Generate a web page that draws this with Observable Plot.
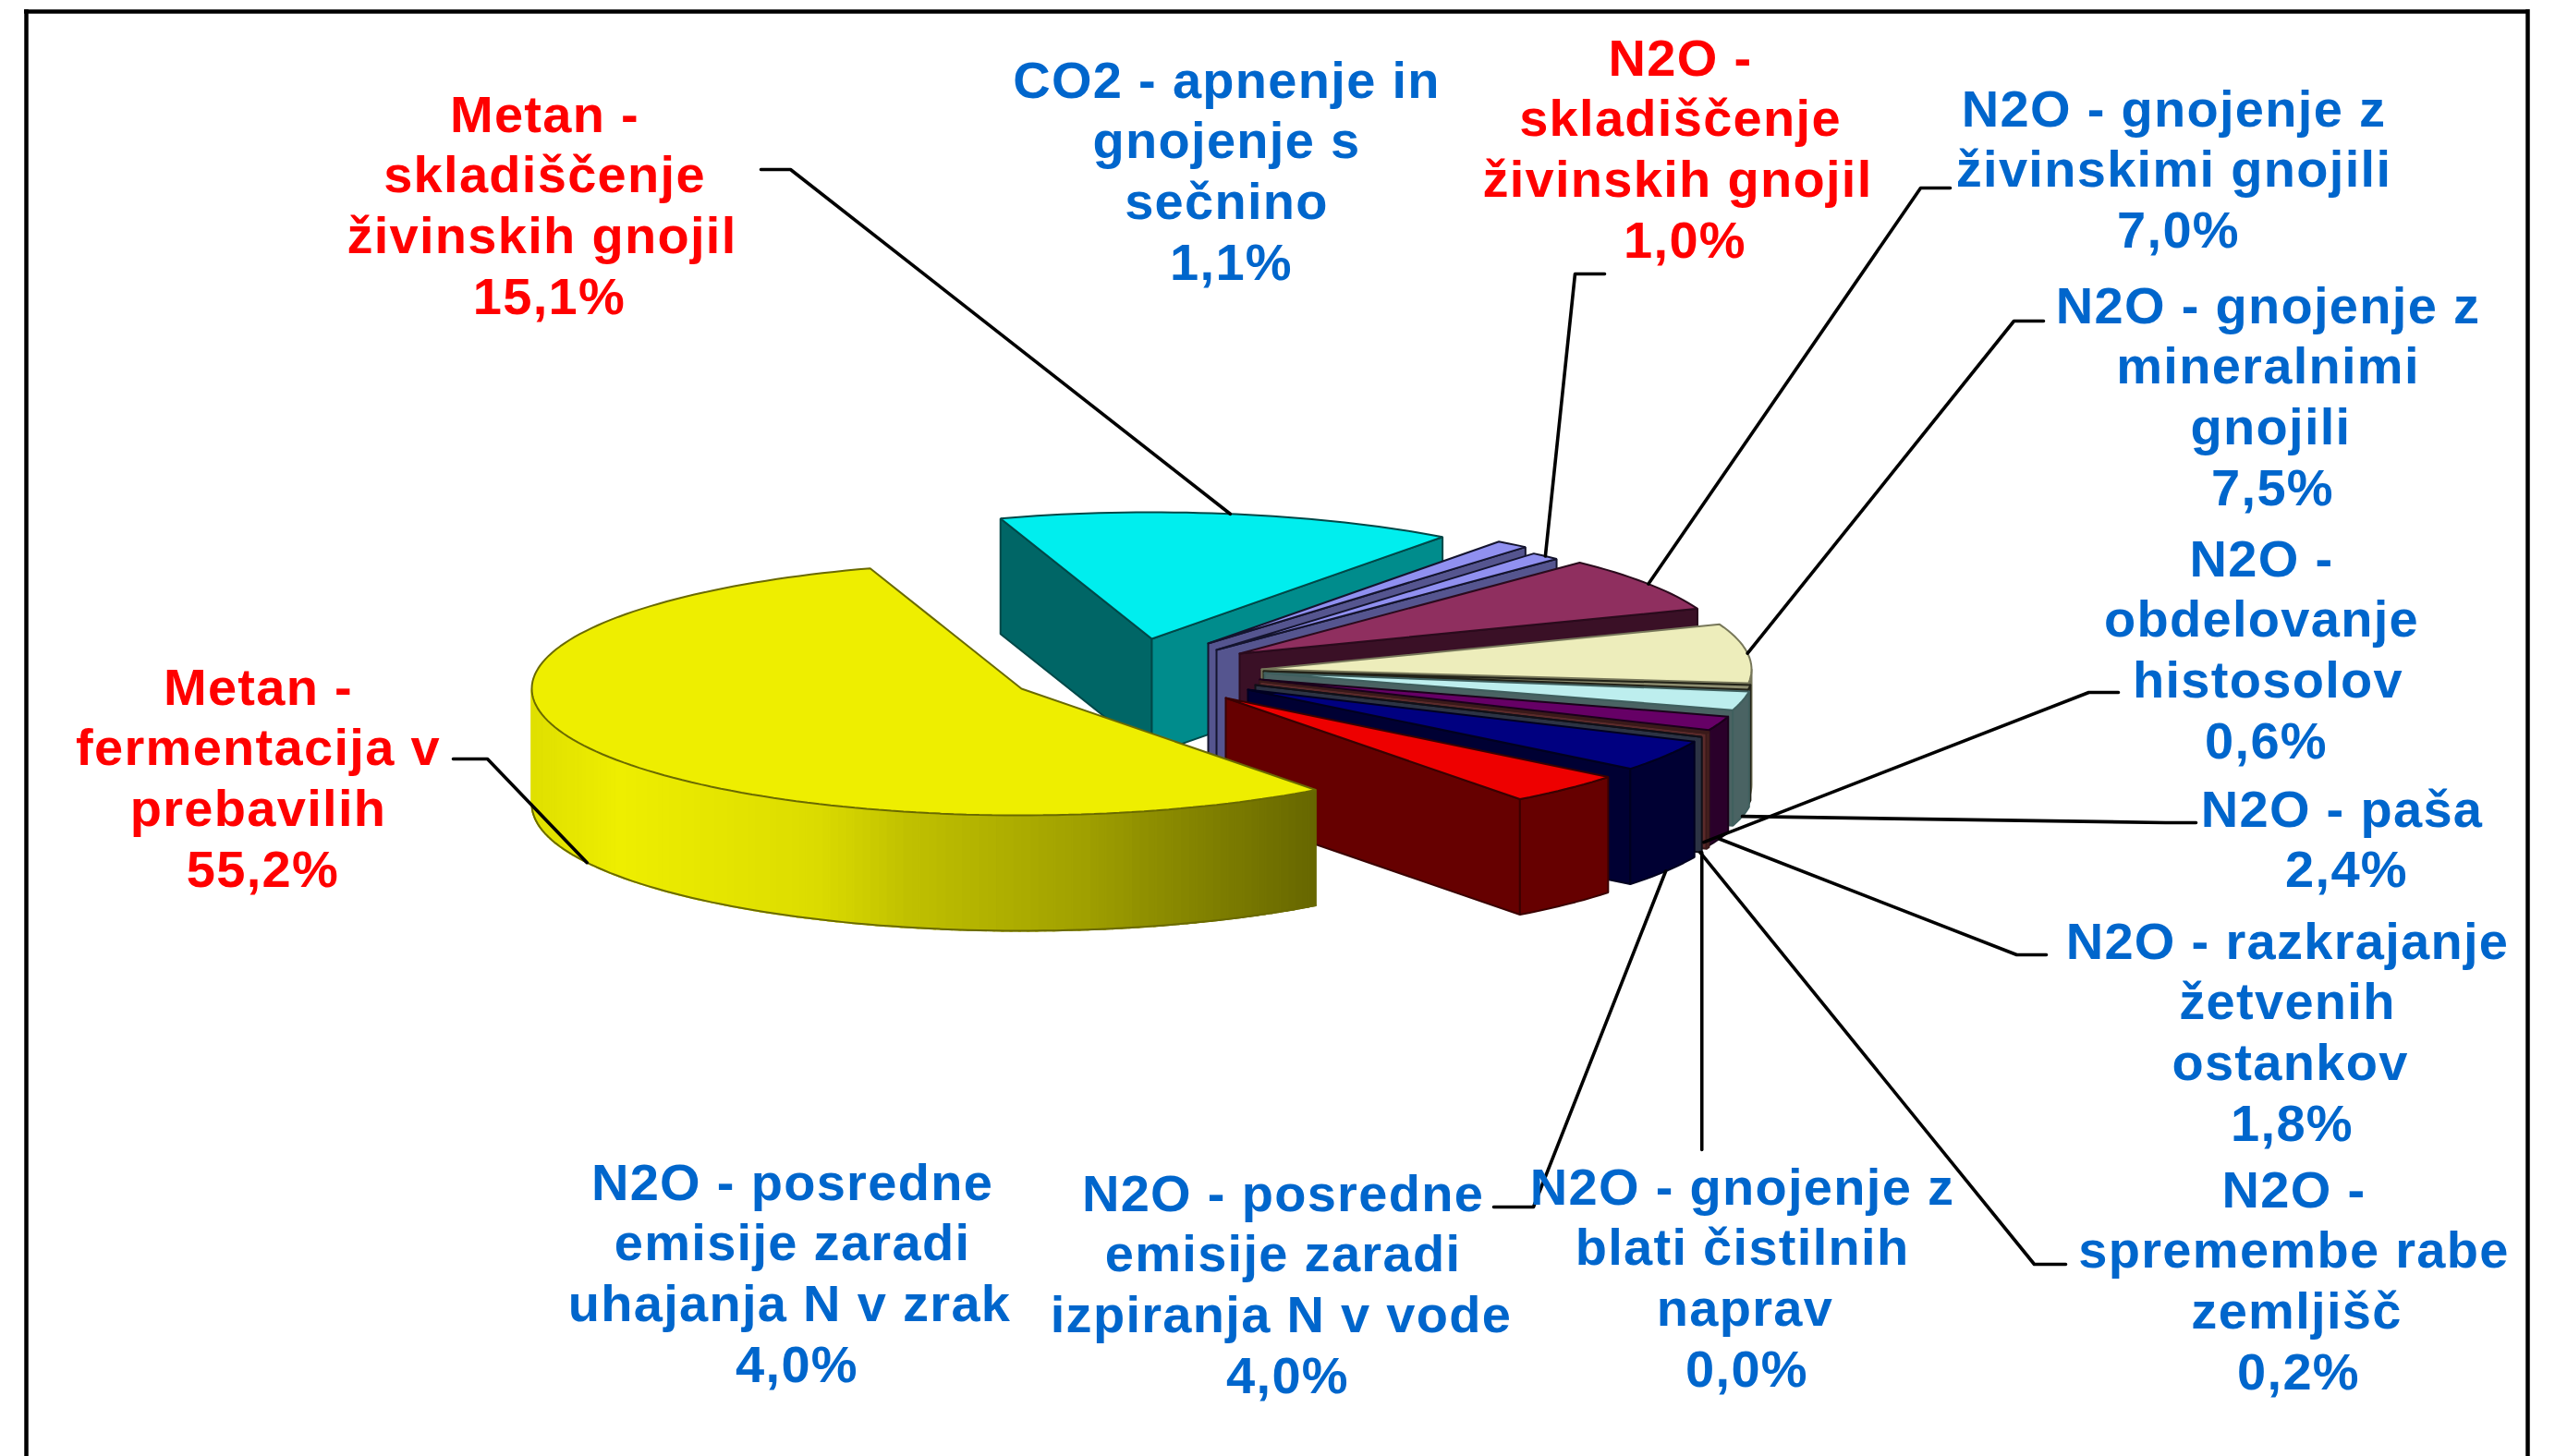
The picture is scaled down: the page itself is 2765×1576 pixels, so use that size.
<!DOCTYPE html>
<html>
<head>
<meta charset="utf-8">
<script src="https://cdn.jsdelivr.net/npm/d3@7"></script>
<script src="https://cdn.jsdelivr.net/npm/@observablehq/plot@0.6"></script>
<style>html,body{margin:0;padding:0;background:#fff}svg{display:block}</style>
</head>
<body>
<div id="chart"></div>
<script>
// ---- data ----
const categories = [
  "Metan -|fermentacija v|prebavilih",
  "Metan -|skladiščenje|živinskih gnojil",
  "CO2 - apnenje in|gnojenje s|sečnino",
  "N2O -|skladiščenje|živinskih gnojil",
  "N2O - gnojenje z|živinskimi gnojili",
  "N2O - gnojenje z|mineralnimi|gnojili",
  "N2O -|obdelovanje|histosolov",
  "N2O - paša",
  "N2O - razkrajanje|žetvenih|ostankov",
  "N2O -|spremembe rabe|zemljišč",
  "N2O - gnojenje z|blati čistilnih|naprav",
  "N2O - posredne|emisije zaradi|izpiranja N v vode",
  "N2O - posredne|emisije zaradi|uhajanja N v zrak"
];
const shares = [55.2, 15.1, 1.1, 1.0, 7.0, 7.5, 0.6, 2.4, 1.8, 0.2, 0.0, 4.0, 4.0];

// ---- styles ----
const labelColors = ["#ff0000","#ff0000","#0066cc","#ff0000","#0066cc","#0066cc","#0066cc","#0066cc","#0066cc","#0066cc","#0066cc","#0066cc","#0066cc"];
const topColors   = ["#eeee00","#00eeee","#9090f0","#9090f0","#8f2f5f","#ededbb","#8d8d70","#bdeeee","#660066","#b85c5c","#30384a","#000080","#ee0000"];
const startWalls  = ["#666600","#006666","#55558f","#55558f","#3a1026","#66664d","#44443a","#4a6363","#2a002a","#5a2a2a","#2c3344","#000033","#660000"];
const endWalls    = ["#666600","#008c8c","#55558f","#55558f","#3a1026","#66664d","#44443a","#4a6363","#2a002a","#5a2a2a","#2c3344","#000033","#660000"];
const edgeColors  = ["#6a6a00","#004848","#14142e","#14142e","#2a0a1c","#77775a","#222218","#40605f","#1a001a","#3a1a1a","#101018","#000020","#3a0000"];
const yellowRampStops = [577, 670, 880, 980, 1170, 1270, 1423];
const yellowRampColors = ["#e0e000", "#eeee00", "#dcdc00", "#c0c000", "#a0a000", "#888800", "#666600"];

// ---- layout ----
const rx = 530, ry = 137, depth = 125, fontSize = 56, lineStep = 65.7;
const startAngle = 252 - 360 * shares[0] / d3.sum(shares);   // clockwise from east, on the ellipse
const centerX = [1105,1246,1307,1316,1341,1365,1367,1368,1363,1363,1358,1350,1326];
const centerY = [ 745, 691, 696, 703, 707, 724, 726, 728, 735, 737, 741, 746, 755];
const labelX  = [ 279, 589,1327,1818,2352,2454,2447,2534,2475,2482,1885,1388, 857];
const labelY  = [ 762, 142, 105,  81, 136, 349, 623, 894,1037,1306,1303,1310,1298];
const percentShift = 5;
const lastLineShift = [0, -3, 0, -3, 0, 3, 7, 0, 3, 3, 3, -2, -3];
// leader shoulders: from x, to x, y (null = none)
const leaderShoulders = [
  [490,527,821],[823,855,183],null,[1736,1704,296],[2110,2078,203],[2211,2179,347],
  [2292,2260,749],[2376,2343,890],[2214,2182,1033],[2235,2201,1368],null,[1616,1659,1306],null
];
const leaderAngleOverride = [null,null,null,null,null,null,26,null,null,26,null,null,null];
const verticalLeaderTop = [null,null,null,null,null,null,null,null,null,null,1244,null,null];

// ---- geometry from the shares ----
const total = d3.sum(shares);
let acc = startAngle;
const slices = shares.map((s, i) => {
  const t0 = acc, t1 = acc + s / total * 360; acc = t1;
  return {i, t0, t1, cx: centerX[i], cy: centerY[i]};
});
const rad = d => d * Math.PI / 180;
const px = (sl, t) => sl.cx + rx * Math.cos(rad(t));
const py = (sl, t) => sl.cy + ry * Math.sin(rad(t));
const mod = t => ((t % 360) + 360) % 360;

const rows = [];
const outlineRows = [];
let zid = 0;
function poly(pts, fill, stroke) {
  const z = zid++;
  for (const [x, y] of pts) rows.push({x, y, z, fill, stroke});
}
function arc(sl, a, b, dz = 0) {
  const n = Math.max(2, Math.ceil(Math.abs(b - a) / 1.5));
  return d3.range(n + 1).map(k => { const t = a + (b - a) * k / n; return [px(sl, t), py(sl, t) + dz]; });
}
function box(sl, t, color, edge) {
  const ax = sl.cx, ay = sl.cy, bx = px(sl, t), by = py(sl, t);
  poly([[ax,ay],[bx,by],[bx,by+depth],[ax,ay+depth],[ax,ay]], color, edge);
}
const yellowRamp = d3.scaleLinear().domain(yellowRampStops).range(yellowRampColors).clamp(true);
const order = slices.slice(1).concat(slices[0]);
for (const sl of order) {
  const {i, t0, t1} = sl;
  const a0 = mod(t0), a1 = mod(t1);
  if (a0 > 90 && a0 < 270) box(sl, t0, startWalls[i], edgeColors[i]);
  if (a1 > 270 || a1 < 90) box(sl, t1, endWalls[i], edgeColors[i]);
  // the outer rim: only the part that faces the viewer
  const base = t0 - mod(t0);
  for (const [lo, hi] of [[base, base + 180], [base + 360, base + 540]]) {
    const a = Math.max(t0, lo), b = Math.min(t1, hi);
    if (b <= a) continue;
    if (i === 0) {
      for (let t = a; t < b; t += 1) {
        const e = Math.min(t + 1.3, b);
        const top = [[px(sl, t), py(sl, t)], [px(sl, e), py(sl, e)]];
        const bot = [[px(sl, e), py(sl, e) + depth], [px(sl, t), py(sl, t) + depth]];
        const c = d3.color(yellowRamp((px(sl, t) + px(sl, e)) / 2)).formatHex();
        poly([...top, ...bot, top[0]], c, c);
      }
      // the wall's lower outline and its right-hand end
      for (const [x, y] of arc(sl, a, b, depth)) outlineRows.push({x, y});
    } else {
      const top = arc(sl, a, b), bot = arc(sl, b, a, depth);
      poly([...top, ...bot, top[0]], endWalls[i], edgeColors[i]);
    }
  }
  const rim = arc(sl, t0, t1);
  poly([[sl.cx, sl.cy], ...rim, [sl.cx, sl.cy]], topColors[i], edgeColors[i]);
}

// leader lines end on the slice at its mid angle
const leaderRows = [];
slices.forEach((sl, i) => {
  const sh = leaderShoulders[i];
  const t = leaderAngleOverride[i] ?? (sl.t0 + sl.t1) / 2;
  const ex = px(sl, t), ey = py(sl, t) + (Math.sin(rad(t)) > 0 ? depth : 0);
  if (sh) {
    leaderRows.push({x: sh[0], y: sh[2], z: i}, {x: sh[1], y: sh[2], z: i}, {x: ex, y: ey, z: i});
  } else if (verticalLeaderTop[i] != null) {
    leaderRows.push({x: ex, y: verticalLeaderTop[i], z: i}, {x: ex, y: ey, z: i});
  }
});

// labels, one row per printed line
const fmt = v => v.toFixed(1).replace(".", ",") + "%";
const labelRows = categories.flatMap((c, i) => {
  const words = c.split("|");
  const lines = [...words, fmt(shares[i])];
  return lines.map((text, k) => ({
    text,
    x: labelX[i] + (k === words.length ? percentShift : k === words.length - 1 ? lastLineShift[i] : 0),
    y: labelY[i] + k * lineStep,
    color: labelColors[i]
  }));
});

const plot = Plot.plot({
  width: 2765, height: 1576,
  marginTop: 0, marginRight: 0, marginBottom: 0, marginLeft: 0,
  x: {domain: [0, 2765], range: [0, 2765], axis: null},
  y: {domain: [0, 1576], range: [0, 1576], axis: null},
  color: {type: "identity"},
  style: {background: "#fff", fontFamily: "'Liberation Sans', Arial, sans-serif", letterSpacing: "1.3px"},
  marks: [
    Plot.ruleY([12], {x1: 26, x2: 2737, stroke: "#000", strokeWidth: 4.5}),
    Plot.ruleX([28], {y1: 10, y2: 1576, stroke: "#000", strokeWidth: 4.5}),
    Plot.ruleX([2735], {y1: 10, y2: 1576, stroke: "#000", strokeWidth: 4.5}),
    Plot.line(rows, {x: "x", y: "y", z: "z", fill: "fill", stroke: "stroke", strokeWidth: 2, strokeLinejoin: "miter"}),
    Plot.line(outlineRows, {x: "x", y: "y", stroke: edgeColors[0], strokeWidth: 2}),
    Plot.line(leaderRows, {x: "x", y: "y", z: "z", stroke: "#000", strokeWidth: 3.6}),
    Plot.text(labelRows, {x: "x", y: "y", text: "text", fill: "color", fontSize, fontWeight: "bold", textAnchor: "middle", lineAnchor: "bottom"})
  ]
});
document.getElementById("chart").appendChild(plot);
</script>
</body>
</html>
